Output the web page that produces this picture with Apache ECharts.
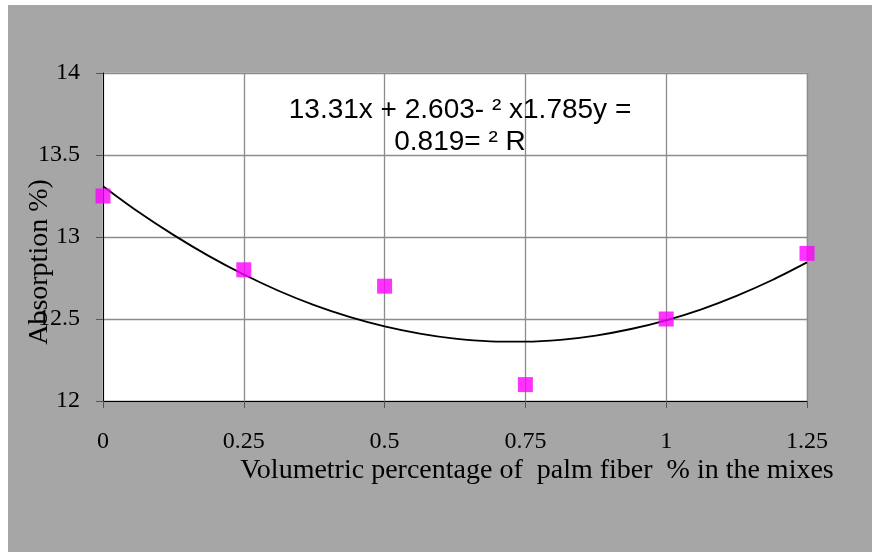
<!DOCTYPE html>
<html>
<head>
<meta charset="utf-8">
<script src="https://cdn.jsdelivr.net/npm/echarts@6/dist/echarts.min.js"></script>
<style>
  html, body { margin: 0; padding: 0; background: #ffffff; }
  #chart { position: absolute; left: 8px; top: 5px; width: 864px; height: 547px; }
</style>
</head>
<body>
<div id="chart"></div>
<script>
// measured points
const fiberPct = [0, 0.25, 0.5, 0.75, 1, 1.25];
const absorption = [13.25, 12.8, 12.7, 12.1, 12.5, 12.9];

// trendline
const trendX = [0, 0.0625, 0.125, 0.1875, 0.25, 0.3125, 0.375, 0.4375, 0.5, 0.5625, 0.625,
    0.6875, 0.75, 0.8125, 0.875, 0.9375, 1, 1.0625, 1.125, 1.1875, 1.25];
const trendY = [13.31, 13.154, 13.013, 12.885, 12.771, 12.671, 12.585, 12.513, 12.455, 12.411, 12.38,
    12.364, 12.362, 12.373, 12.399, 12.439, 12.492, 12.559, 12.641, 12.736, 12.845];

const equationLine1 = '13.31x + 2.603- \u00B2 x1.785y =';
const equationLine2 = '0.819= \u00B2 R';

const xName = 'Volumetric percentage of  palm fiber  % in the mixes';
const yName = 'Absorption %)';

const chart = echarts.init(document.getElementById('chart'));

const serif = '"Liberation Serif", "Times New Roman", serif';
const sans = '"Liberation Sans", Arial, sans-serif';

const option = {
    backgroundColor: '#a6a6a6',
    animation: false,
    grid: {
        left: 95,
        top: 68,
        width: 704,
        height: 328,
        outerBoundsMode: 'none',
        containLabel: false,
        show: true,
        backgroundColor: '#ffffff',
        borderColor: '#d4d4d4',
        borderWidth: 1
    },
    xAxis: {
        type: 'value',
        min: 0,
        max: 1.25,
        interval: 0.25,
        name: xName,
        nameLocation: 'middle',
        nameGap: 56,
        nameMoveOverlap: false,
        nameTextStyle: {
            fontFamily: serif,
            fontSize: 28,
            color: '#000',
            padding: [0, 0, 0, 164]
        },
        axisLine: { show: true, onZero: false, lineStyle: { color: '#000', width: 1 } },
        axisTick: { show: true, inside: false, length: 7, lineStyle: { color: '#555' } },
        axisLabel: {
            fontFamily: serif,
            fontSize: 24,
            color: '#000',
            margin: 29,
            formatter: v => String(v)
        },
        splitLine: { show: true, lineStyle: { color: '#8c8c8c', width: 1.3 } }
    },
    yAxis: {
        type: 'value',
        min: 12,
        max: 14,
        interval: 0.5,
        name: yName,
        nameLocation: 'middle',
        nameGap: 49,
        nameMoveOverlap: false,
        nameTextStyle: {
            fontFamily: serif,
            fontSize: 28,
            color: '#000',
            padding: [0, 50, 0, 0]
        },
        axisLine: { show: true, lineStyle: { color: '#000', width: 1 } },
        axisTick: { show: true, inside: false, length: 7, lineStyle: { color: '#555' } },
        axisLabel: {
            fontFamily: serif,
            fontSize: 24,
            color: '#000',
            margin: 23,
            formatter: v => String(v)
        },
        splitLine: { show: true, lineStyle: { color: '#8c8c8c', width: 1.3 } }
    },
    graphic: [
        {
            type: 'text',
            x: 452,
            y: 91,
            z: 10,
            style: {
                text: equationLine1,
                fontFamily: sans,
                fontSize: 28,
                fill: '#000',
                align: 'center',
                verticalAlign: 'top'
            }
        },
        {
            type: 'text',
            x: 452,
            y: 123,
            z: 10,
            style: {
                text: equationLine2,
                fontFamily: sans,
                fontSize: 28,
                fill: '#000',
                align: 'center',
                verticalAlign: 'top'
            }
        }
    ],
    series: [
        {
            name: 'trend',
            type: 'line',
            smooth: 0.3,
            showSymbol: false,
            symbol: 'none',
            data: trendX.map((x, i) => [x, trendY[i]]),
            lineStyle: { color: '#000', width: 1.8 },
            z: 3
        },
        {
            name: 'Absorption',
            type: 'scatter',
            symbol: 'rect',
            symbolSize: 15,
            data: fiberPct.map((x, i) => [x, absorption[i]]),
            itemStyle: { color: '#ff00ff' },
            z: 4
        }
    ]
};

chart.setOption(option);
</script>
</body>
</html>
